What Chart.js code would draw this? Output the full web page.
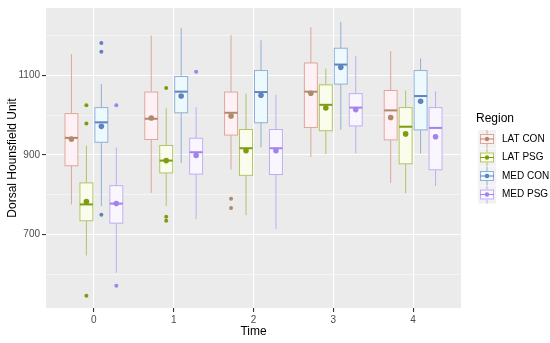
<!DOCTYPE html>
<html>
<head>
<meta charset="utf-8">
<script src="https://cdn.jsdelivr.net/npm/chart.js@4"></script>
<style>
html, body { margin: 0; padding: 0; background: #fff; }
</style>
</head>
<body>
<canvas id="boxChart" width="550" height="343"></canvas>
<script>
var times = [0, 1, 2, 3, 4];
var regions = ['LAT CON', 'LAT PSG', 'MED CON', 'MED PSG'];
var yTicks = [600, 700, 800, 900, 1000, 1100, 1200];

// box stats per region, one value per time point
var latConLow = [776, 805, 863, 895, 830];
var latConQ1 = [873, 939, 950, 969, 938];
var latConMedian = [943, 991, 1006, 1059, 1012];
var latConQ3 = [1004, 1058, 1058, 1131, 1062];
var latConHigh = [1153, 1200, 1201, 1221, 1161];
var latConMean = [940, 993, 998, 1055, 994];
var latConOutliers = [[2, 790], [2, 767]];

var latPsgLow = [648, 772, 749, 902, 804];
var latPsgQ1 = [735, 855, 849, 961, 878];
var latPsgMedian = [776, 886, 917, 1026, 971];
var latPsgQ3 = [830, 924, 964, 1076, 1019];
var latPsgHigh = [924, 1018, 1054, 1117, 1062];
var latPsgMean = [783, 886, 911, 1018, 953];
var latPsgOutliers = [[0, 1025], [0, 979], [0, 547], [1, 1068], [1, 745], [1, 735]];

var medConLow = [772, 880, 919, 964, 904];
var medConQ1 = [932, 1006, 981, 1078, 963];
var medConMedian = [982, 1059, 1058, 1127, 1048];
var medConQ3 = [1019, 1097, 1112, 1168, 1112];
var medConHigh = [1078, 1219, 1188, 1234, 1142];
var medConMean = [972, 1048, 1050, 1120, 1035];
var medConOutliers = [[0, 1181], [0, 1159], [0, 750]];

var medPsgLow = [604, 739, 714, 904, 822];
var medPsgQ1 = [729, 852, 851, 973, 863];
var medPsgMedian = [778, 907, 917, 1019, 968];
var medPsgQ3 = [823, 942, 964, 1054, 1019];
var medPsgHigh = [919, 1020, 1051, 1149, 1060];
var medPsgMean = [778, 899, 911, 1014, 946];
var medPsgOutliers = [[0, 1025], [0, 572], [1, 1109]];

var stats = [
    { low: latConLow, q1: latConQ1, med: latConMedian, q3: latConQ3, high: latConHigh, mean: latConMean, out: latConOutliers },
    { low: latPsgLow, q1: latPsgQ1, med: latPsgMedian, q3: latPsgQ3, high: latPsgHigh, mean: latPsgMean, out: latPsgOutliers },
    { low: medConLow, q1: medConQ1, med: medConMedian, q3: medConQ3, high: medConHigh, mean: medConMean, out: medConOutliers },
    { low: medPsgLow, q1: medPsgQ1, med: medPsgMedian, q3: medPsgQ3, high: medPsgHigh, mean: medPsgMean, out: medPsgOutliers }
];

var lineColors = ['#DDA898', '#B4C268', '#93AED6', '#C0ADF2'];
var darkColors = ['#B0896A', '#7C9C12', '#5F82C2', '#A283EC'];
var fillColors = ['rgba(255,242,246,0.9)', 'rgba(252,255,236,0.9)', 'rgba(236,252,255,0.9)', 'rgba(252,247,255,0.9)'];
var dodge = [-0.28125, -0.09375, 0.09375, 0.28125];
var halfWidth = 0.0875;

var datasets = [];
regions.forEach(function(name, r) {
    datasets.push({
        label: name,
        data: times.map(function(t, i) { return { x: t + dodge[r], y: stats[r].mean[i] }; }),
        backgroundColor: darkColors[r],
        borderWidth: 0,
        pointRadius: 2.8
    });
});
regions.forEach(function(name, r) {
    datasets.push({
        label: name + ' outliers',
        data: stats[r].out.map(function(p) { return { x: p[0] + dodge[r], y: p[1] }; }),
        backgroundColor: darkColors[r],
        borderWidth: 0,
        pointRadius: 2
    });
});

var panelBg = {
    id: 'panelBg',
    beforeDraw: function(chart) {
        var a = chart.chartArea, c = chart.ctx;
        c.save();
        c.fillStyle = '#EBEBEB';
        c.fillRect(a.left, a.top, a.right - a.left, a.bottom - a.top);
        c.restore();
    }
};

var boxes = {
    id: 'boxes',
    beforeDatasetsDraw: function(chart) {
        var c = chart.ctx, xs = chart.scales.x, ys = chart.scales.y;
        c.save();
        stats.forEach(function(s, r) {
            times.forEach(function(t, i) {
                var xc = xs.getPixelForValue(t + dodge[r]);
                var hw = xs.getPixelForValue(t + dodge[r] + halfWidth) - xc;
                var yLow = ys.getPixelForValue(s.low[i]);
                var yQ1 = ys.getPixelForValue(s.q1[i]);
                var yMed = ys.getPixelForValue(s.med[i]);
                var yQ3 = ys.getPixelForValue(s.q3[i]);
                var yHigh = ys.getPixelForValue(s.high[i]);
                c.strokeStyle = lineColors[r];
                c.lineWidth = 1;
                c.beginPath();
                c.moveTo(xc, yHigh); c.lineTo(xc, yQ3);
                c.moveTo(xc, yQ1); c.lineTo(xc, yLow);
                c.stroke();
                c.fillStyle = fillColors[r];
                c.fillRect(xc - hw, yQ3, hw * 2, yQ1 - yQ3);
                c.strokeRect(xc - hw + 0.5, yQ3, hw * 2 - 1, yQ1 - yQ3);
                c.strokeStyle = darkColors[r];
                c.lineWidth = 2;
                c.beginPath();
                c.moveTo(xc - hw + 0.5, yMed); c.lineTo(xc + hw - 0.5, yMed);
                c.stroke();
            });
        });
        c.restore();
    }
};

var legendBox = {
    id: 'legendBox',
    afterDraw: function(chart) {
        var c = chart.ctx;
        c.save();
        c.fillStyle = '#000';
        c.font = '12px "Liberation Sans", Arial, sans-serif';
        c.textBaseline = 'middle';
        c.fillText('Region', 476, 119);
        c.font = '10px "Liberation Sans", Arial, sans-serif';
        regions.forEach(function(name, r) {
            var cy = 139 + r * 18.5, cx = 487;
            c.fillStyle = '#F2F2F2';
            c.fillRect(cx - 9, cy - 9, 18, 18);
            c.strokeStyle = lineColors[r];
            c.lineWidth = 1;
            c.beginPath();
            c.moveTo(cx, cy - 9); c.lineTo(cx, cy + 9);
            c.stroke();
            c.fillStyle = fillColors[r];
            c.fillRect(cx - 7, cy - 5, 14, 10);
            c.strokeRect(cx - 7 + 0.5, cy - 5 + 0.5, 13, 9);
            c.strokeStyle = darkColors[r];
            c.beginPath();
            c.moveTo(cx - 7, cy); c.lineTo(cx + 7, cy);
            c.stroke();
            c.fillStyle = darkColors[r];
            c.beginPath();
            c.arc(cx, cy, 2.2, 0, Math.PI * 2);
            c.fill();
            c.fillStyle = '#000';
            c.fillText(name, 502, cy);
        });
        c.restore();
    }
};

var tickFont = { family: '"Liberation Sans", Arial, sans-serif', size: 10 };
var titleFont = { family: '"Liberation Sans", Arial, sans-serif', size: 12 };

new Chart(document.getElementById('boxChart').getContext('2d'), {
    type: 'scatter',
    data: { datasets: datasets },
    options: {
        responsive: false,
        animation: false,
        layout: { padding: { top: 5, right: 89, left: 0, bottom: 0 } },
        scales: {
            x: {
                type: 'linear',
                min: -0.6,
                max: 4.6,
                afterBuildTicks: function(s) { s.ticks = times.map(function(v) { return { value: v }; }); },
                afterFit: function(s) { s.height = 35; },
                ticks: { font: tickFont, color: '#4D4D4D', padding: 2 },
                grid: { color: '#FFFFFF', lineWidth: 1.1, tickLength: 4, tickColor: '#333333' },
                border: { display: false },
                title: { display: true, text: 'Time', font: titleFont, color: '#000', padding: { top: 0, bottom: 4 } }
            },
            y: {
                type: 'linear',
                min: 516,
                max: 1269,
                afterBuildTicks: function(s) { s.ticks = yTicks.map(function(v) { return { value: v }; }); },
                afterFit: function(s) { s.width = 46; },
                ticks: {
                    font: tickFont,
                    color: '#4D4D4D',
                    padding: 2,
                    callback: function(v) { return v % 200 === 100 ? v : ''; }
                },
                grid: {
                    color: '#FFFFFF',
                    lineWidth: function(ctx) { return ctx.tick && ctx.tick.value % 200 === 100 ? 1.1 : 0.5; },
                    tickLength: 4,
                    tickColor: function(ctx) { return ctx.tick && ctx.tick.value % 200 === 100 ? '#333333' : 'rgba(0,0,0,0)'; }
                },
                border: { display: false },
                title: { display: true, text: 'Dorsal Hounsfield Unit', font: titleFont, color: '#000', padding: { top: 5, bottom: 0 } }
            }
        },
        plugins: {
            legend: { display: false },
            tooltip: { enabled: false }
        }
    },
    plugins: [panelBg, boxes, legendBox]
});
</script>
</body>
</html>
